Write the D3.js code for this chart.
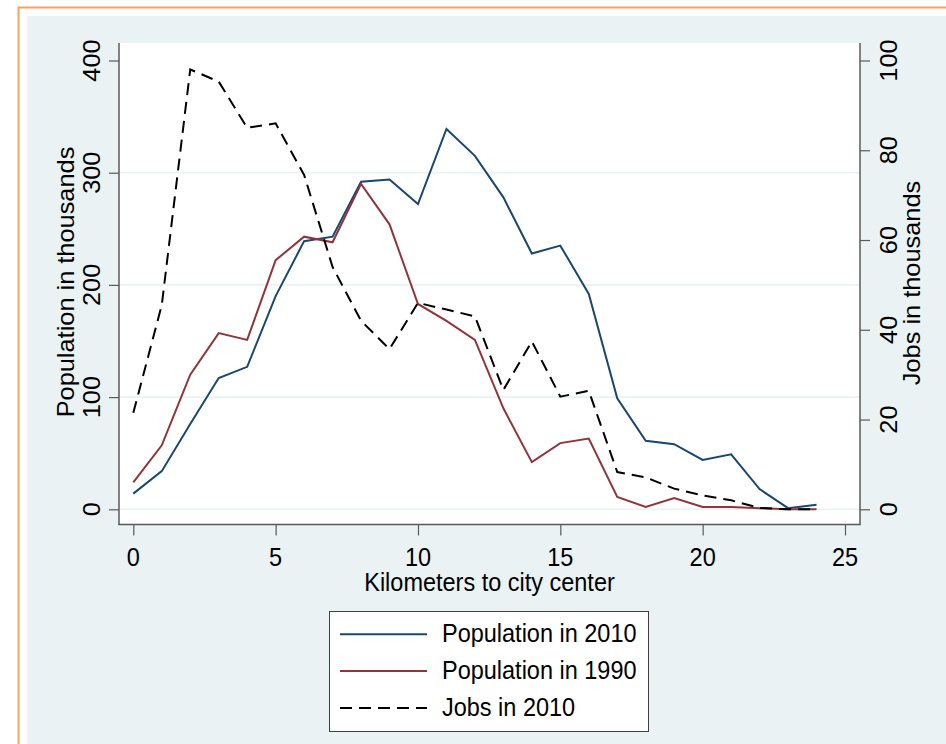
<!DOCTYPE html>
<html>
<head>
<meta charset="utf-8">
<script src="https://cdn.jsdelivr.net/npm/d3@7"></script>
<style>
  html, body { margin: 0; padding: 0; background: #ffffff; }
  svg { display: block; }
  text { font-family: "Liberation Sans", Arial, Helvetica, sans-serif; fill: #000; }
</style>
</head>
<body>
<svg id="chart" width="946" height="744"></svg>
<script>
// Distance from the city centre, in kilometres
const km = [0, 1, 2, 3, 4, 5, 6, 7, 8, 9, 10, 11, 12, 13, 14, 15, 16, 17, 18, 19, 20, 21, 22, 23, 24];
// Population in 2010 (thousands)
const pop2010 = [14, 34, 76, 117, 127, 190, 239, 243, 292, 294, 272, 339, 315, 278, 228, 235, 192, 99, 61, 58, 44, 49, 18, 1, 4];
// Population in 1990 (thousands)
const pop1990 = [24, 57, 120, 157, 151, 222, 243, 238, 290, 254, 183, 168, 151, 90, 42, 59, 63, 11, 2, 10, 2, 2, 1, 0, 0];
// Jobs in 2010 (thousands, right axis)
const jobs2010 = [21.5, 45.5, 98, 95.3, 85, 86, 74.5, 54, 42, 35.7, 46, 44.5, 43, 26.6, 37.4, 25.1, 26.4, 8.3, 7.1, 4.6, 3.1, 2, 0.3, 0, 0];

const xTicks = [0, 5, 10, 15, 20, 25];
const yLeftTicks = [0, 100, 200, 300, 400];
const yLeftGrid = [0, 100, 200, 300];
const yRightTicks = [0, 20, 40, 60, 80, 100];

const seriesNames = ["Population in 2010", "Population in 1990", "Jobs in 2010"];

const xLabel = "Kilometers to city center";
const yLeftLabel = "Population in thousands";
const yRightLabel = "Jobs in thousands";

const svg = d3.select("#chart");
const W = 946, H = 744;
const textStretch = 1.08;
const fs = 23.5;

// Outer frame
svg.append("rect").attr("x", 0).attr("y", 0).attr("width", W).attr("height", H).attr("fill", "#ffffff");
svg.append("rect").attr("x", 18.5).attr("y", 7.5).attr("width", W + 20).attr("height", H + 20)
  .attr("fill", "none").attr("stroke", "#F6A35E").attr("stroke-width", 2);
svg.append("rect").attr("x", 27).attr("y", 16).attr("width", W).attr("height", H)
  .attr("fill", "#EAF2F3");

// Plot region
const plot = { left: 119, right: 860, top: 43, bottom: 524.5 };
svg.append("rect").attr("x", plot.left).attr("y", plot.top)
  .attr("width", plot.right - plot.left).attr("height", plot.bottom - plot.top)
  .attr("fill", "#ffffff");

const x = d3.scaleLinear().domain([0, 25]).range([133.3, 845]);
const yL = d3.scaleLinear().domain([0, 400]).range([509.3, 60.5]);
const yR = d3.scaleLinear().domain([0, 100]).range([509.3, 60.5]);

// Grid lines
svg.append("g").selectAll("line").data(yLeftGrid).join("line")
  .attr("x1", plot.left).attr("x2", plot.right)
  .attr("y1", d => yL(d)).attr("y2", d => yL(d))
  .attr("stroke", "#EAF2F3").attr("stroke-width", 1.6);

// Axes
const axisColor = "#5a5a5a";
function styleAxis(g) {
  g.select(".domain").remove();
  g.selectAll(".tick line").attr("stroke", axisColor).attr("stroke-width", 1.2);
  g.selectAll(".tick text").remove();
}
const gx = svg.append("g").attr("transform", `translate(0,${plot.bottom})`)
  .call(d3.axisBottom(x).tickValues(xTicks).tickSize(11).tickSizeOuter(0));
styleAxis(gx);
const gyl = svg.append("g").attr("transform", `translate(${plot.left},0)`)
  .call(d3.axisLeft(yL).tickValues(yLeftTicks).tickSize(10).tickSizeOuter(0));
styleAxis(gyl);
const gyr = svg.append("g").attr("transform", `translate(${plot.right},0)`)
  .call(d3.axisRight(yR).tickValues(yRightTicks).tickSize(10).tickSizeOuter(0));
styleAxis(gyr);

// Axis lines
svg.append("line").attr("x1", plot.left).attr("x2", plot.left).attr("y1", plot.top).attr("y2", plot.bottom)
  .attr("stroke", axisColor).attr("stroke-width", 1.5);
svg.append("line").attr("x1", plot.right).attr("x2", plot.right).attr("y1", plot.top).attr("y2", plot.bottom)
  .attr("stroke", axisColor).attr("stroke-width", 1.5);
svg.append("line").attr("x1", plot.left - 0.75).attr("x2", plot.right + 0.75).attr("y1", plot.bottom).attr("y2", plot.bottom)
  .attr("stroke", axisColor).attr("stroke-width", 1.5);

// Tick labels
svg.append("g").selectAll("text").data(xTicks).join("text")
  .attr("transform", d => `translate(${x(d)},566) scale(1,${textStretch})`)
  .attr("text-anchor", "middle").attr("font-size", fs).text(d => d);
svg.append("g").selectAll("text").data(yLeftTicks).join("text")
  .attr("transform", d => `translate(100,${yL(d)}) scale(1,${textStretch}) rotate(-90)`)
  .attr("text-anchor", "middle").attr("font-size", fs).text(d => d);
svg.append("g").selectAll("text").data(yRightTicks).join("text")
  .attr("transform", d => `translate(897,${yR(d)}) scale(1,${textStretch}) rotate(-90)`)
  .attr("text-anchor", "middle").attr("font-size", fs).text(d => d);

// Axis titles
svg.append("text")
  .attr("transform", `translate(${(plot.left + plot.right) / 2},590.5) scale(1,${textStretch})`)
  .attr("text-anchor", "middle").attr("font-size", fs).text(xLabel);
svg.append("text")
  .attr("transform", `translate(74,282) scale(1,${textStretch}) rotate(-90)`)
  .attr("text-anchor", "middle").attr("font-size", fs).text(yLeftLabel);
svg.append("text")
  .attr("transform", `translate(920,283) scale(1,${textStretch}) rotate(-90)`)
  .attr("text-anchor", "middle").attr("font-size", fs).text(yRightLabel);

// Series
const colors = ["#1A476F", "#90353B", "#000000"];
const dash = "12,7";
const lineL = d3.line().x((d, i) => x(km[i])).y(d => yL(d));
const lineR = d3.line().x((d, i) => x(km[i])).y(d => yR(d));

svg.append("path").datum(pop2010).attr("d", lineL)
  .attr("fill", "none").attr("stroke", colors[0]).attr("stroke-width", 2).attr("stroke-linejoin", "miter");
svg.append("path").datum(pop1990).attr("d", lineL)
  .attr("fill", "none").attr("stroke", colors[1]).attr("stroke-width", 2).attr("stroke-linejoin", "miter");
svg.append("path").datum(jobs2010).attr("d", lineR)
  .attr("fill", "none").attr("stroke", colors[2]).attr("stroke-width", 2).attr("stroke-dasharray", dash);

// Legend
const legend = svg.append("g");
legend.append("rect").attr("x", 329.5).attr("y", 611.5).attr("width", 319).attr("height", 120)
  .attr("fill", "#ffffff").attr("stroke", "#404040").attr("stroke-width", 1);
const legY = [634.3, 671, 708];
seriesNames.forEach((name, i) => {
  legend.append("line").attr("x1", 340).attr("x2", 427).attr("y1", legY[i]).attr("y2", legY[i])
    .attr("stroke", colors[i]).attr("stroke-width", 2)
    .attr("stroke-dasharray", i === 2 ? dash : null);
  legend.append("text")
    .attr("transform", `translate(442,${legY[i] + 8}) scale(1,${textStretch})`)
    .attr("font-size", fs).text(name);
});
</script>
</body>
</html>
